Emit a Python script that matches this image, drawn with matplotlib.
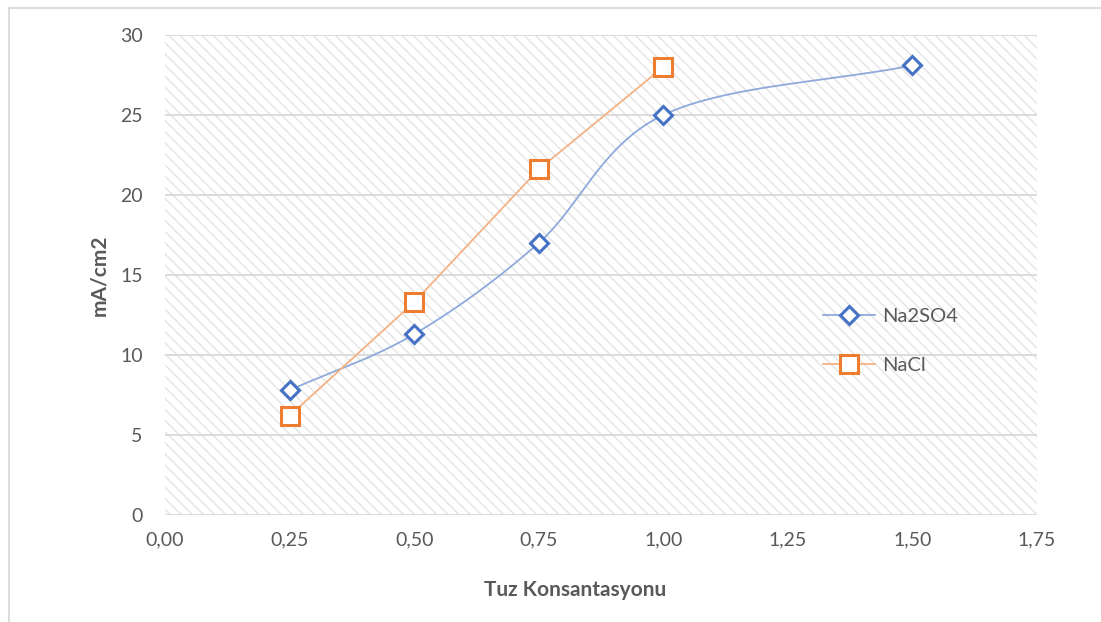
import numpy as np
import matplotlib
matplotlib.use('Agg')
import matplotlib.pyplot as plt
from matplotlib.patches import Rectangle
from matplotlib.lines import Line2D

plt.rcParams['font.family'] = ['Lato', 'DejaVu Sans']
plt.rcParams['hatch.linewidth'] = 1.0
plt.rcParams['hatch.color'] = '#e4e4e4'

# data
na2so4_x = [0.25, 0.50, 0.75, 1.00, 1.50]
na2so4_y = [7.8, 11.3, 17.0, 25.0, 28.1]
nacl_x = [0.25, 0.50, 0.75, 1.00]
nacl_y = [6.2, 13.3, 21.6, 28.0]
x_ticks = [0.0, 0.25, 0.5, 0.75, 1.0, 1.25, 1.5, 1.75]
y_ticks = [0, 5, 10, 15, 20, 25, 30]

BLUE = '#4472C4'
ORANGE = '#ED7D31'
TXT = '#595959'


def smooth(xs, ys, n=40):
    # excel style smoothed line (catmull-rom through the points)
    p = np.column_stack([xs, ys]).astype(float)
    p = np.vstack([p[0] - (p[1] - p[0]), p, p[-1] + (p[-1] - p[-2])])
    out = []
    t = np.linspace(0, 1, n)[:, None]
    for i in range(1, len(p) - 2):
        p0, p1, p2, p3 = p[i - 1], p[i], p[i + 1], p[i + 2]
        seg = 0.5 * ((2 * p1) + (-p0 + p2) * t +
                     (2 * p0 - 5 * p1 + 4 * p2 - p3) * t ** 2 +
                     (-p0 + 3 * p1 - 3 * p2 + p3) * t ** 3)
        out.append(seg)
    out = np.vstack(out)
    return out[:, 0], out[:, 1]


fig = plt.figure(figsize=(11.01, 6.22), dpi=100)
ax = fig.add_axes([165 / 1101, 1 - 515 / 622, 872 / 1101, 480 / 622])

ax.set_xlim(0, 1.75)
ax.set_ylim(0, 30)

# hatched plot area
ax.add_patch(Rectangle((0, 0), 1, 1, transform=ax.transAxes, facecolor='white',
                       edgecolor='#e4e4e4', hatch='\\\\\\', linewidth=0, zorder=0))
for y in y_ticks:
    ax.axhline(y, color='#d9d9d9', lw=1.3, zorder=1)

sx, sy = smooth(na2so4_x, na2so4_y)
ax.plot(sx, sy, color='#8EA9DB', lw=1.3, zorder=2)
ax.plot(na2so4_x, na2so4_y, ls='none', marker='D', ms=9, mfc='white', mec=BLUE, mew=2.2, zorder=3)
ax.plot(nacl_x, nacl_y, color='#F4B183', lw=1.3, zorder=2)
ax.plot(nacl_x, nacl_y, ls='none', marker='s', ms=13, mfc='white', mec=ORANGE, mew=2.2, zorder=3)

for s in ax.spines.values():
    s.set_visible(False)
ax.set_xticks(x_ticks)
ax.set_xticklabels([('%.2f' % v).replace('.', ',') for v in x_ticks])
ax.set_yticks(y_ticks)
ax.tick_params(length=0, labelsize=14, labelcolor=TXT, pad=12)
ax.tick_params(axis='y', pad=16)

ax.set_xlabel('Tuz Konsantasyonu', fontsize=15, fontweight='bold', color=TXT)
ax.set_ylabel('mA/cm2', fontsize=15, fontweight='bold', color=TXT)
ax.xaxis.set_label_coords((575 - 165) / 872, -(590 - 515) / 480)
ax.yaxis.set_label_coords(-(165 - 99) / 872, 0.5)
ax.xaxis.label.set_va('center')
ax.yaxis.label.set_va('center')

handles = [
    Line2D([], [], color='#8EA9DB', lw=1.3, marker='D', ms=9, mfc='white', mec=BLUE, mew=2.2),
    Line2D([], [], color='#F4B183', lw=1.3, marker='s', ms=13, mfc='white', mec=ORANGE, mew=2.2),
]
leg = ax.legend(handles, ['Na2SO4', 'NaCl'], loc='upper left',
                bbox_to_anchor=((823 - 165) / 872, (515 - 308) / 480),
                frameon=False, fontsize=14.5, labelcolor=TXT, handlelength=2.6, labelspacing=1.6,
                handletextpad=0.35, borderaxespad=0, borderpad=0)

# chart border (top and left edges visible)
fig.add_artist(Line2D([9 / 1101, 9 / 1101], [0, 1 - 8 / 622], color='#d9d9d9', lw=1.3))
fig.add_artist(Line2D([9 / 1101, 1], [1 - 8 / 622, 1 - 8 / 622], color='#d9d9d9', lw=1.3))

fig.savefig('out.png', dpi=100)
